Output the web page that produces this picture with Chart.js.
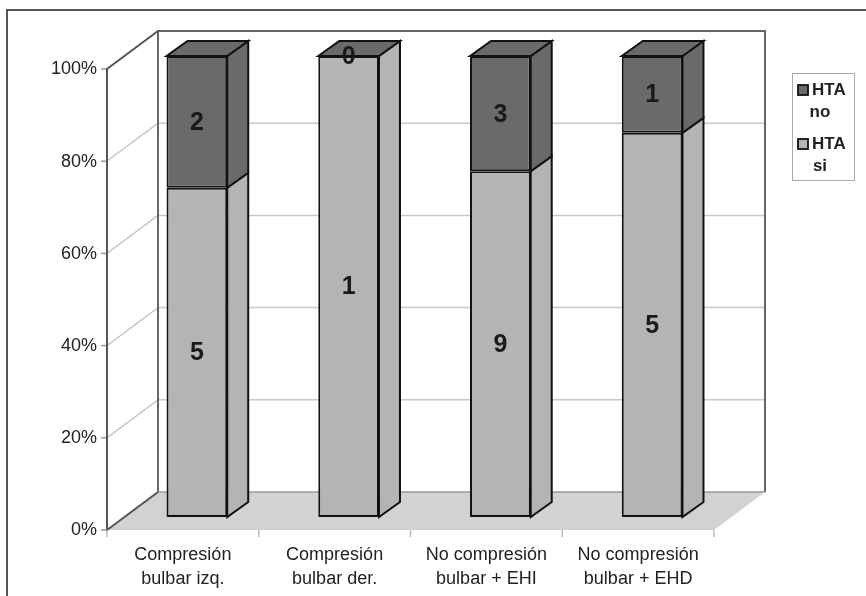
<!DOCTYPE html>
<html>
<head>
<meta charset="utf-8">
<script src="https://cdn.jsdelivr.net/npm/chart.js@4/dist/chart.umd.min.js"></script>
<style>
  html, body { margin: 0; padding: 0; background: #fff; }
  canvas { display: block; }
</style>
</head>
<body>
<canvas id="chart" width="866" height="596"></canvas>
<script>
// Categories (two-line labels)
const categories = [
  ['Compresión', 'bulbar izq.'],
  ['Compresión', 'bulbar der.'],
  ['No compresión', 'bulbar + EHI'],
  ['No compresión', 'bulbar + EHD']
];
// Patient counts per group
const htaSi = [5, 1, 9, 5];
const htaNo = [2, 0, 3, 1];
const seriesNames = ['HTA si', 'HTA no'];
const seriesColors = ['#b4b4b4', '#6a6a6a'];
const yTicks = [0, 20, 40, 60, 80, 100];

// 100% stacked shares
const totals = htaSi.map((v, i) => v + htaNo[i]);
const siPct = htaSi.map((v, i) => v / totals[i] * 100);
const noPct = htaNo.map((v, i) => v / totals[i] * 100);

// Perspective offsets
const WALL = { x: 51, y: -38 };     // depth of the back wall
const SHIFT = { x: 14, y: -13 };    // plane where bar fronts sit
const BAR = { x: 21, y: -15 };      // depth of each column

const FONT = '"Liberation Sans", Arial, sans-serif';

function poly(ctx, pts, fill, stroke, lw) {
  ctx.beginPath();
  ctx.moveTo(pts[0][0], pts[0][1]);
  for (let i = 1; i < pts.length; i++) ctx.lineTo(pts[i][0], pts[i][1]);
  ctx.closePath();
  if (fill) { ctx.fillStyle = fill; ctx.fill(); }
  if (stroke) { ctx.strokeStyle = stroke; ctx.lineWidth = lw || 1; ctx.stroke(); }
}

function line(ctx, x1, y1, x2, y2, color, lw) {
  ctx.beginPath();
  ctx.moveTo(x1, y1);
  ctx.lineTo(x2, y2);
  ctx.strokeStyle = color;
  ctx.lineWidth = lw;
  ctx.stroke();
}

const scene3d = {
  id: 'scene3d',
  beforeDraw(chart) {
    const { ctx, chartArea: a, scales: { x, y } } = chart;
    ctx.save();
    // outer frame
    ctx.strokeStyle = '#555';
    ctx.lineWidth = 2;
    ctx.strokeRect(7, 10, 900, 700);

    const y0 = y.getPixelForValue(0);
    const y100 = y.getPixelForValue(100);

    // floor
    poly(ctx, [[a.left, y0], [a.left + WALL.x, y0 + WALL.y], [a.right + WALL.x, y0 + WALL.y], [a.right, y0]], '#d2d2d2');

    // gridlines: left wall diagonals + back wall horizontals
    yTicks.forEach(t => {
      const py = y.getPixelForValue(t);
      if (t !== 0 && t !== 100) {
        line(ctx, a.left, py, a.left + WALL.x, py + WALL.y, '#c8c8c8', 1.5);
        line(ctx, a.left + WALL.x, py + WALL.y, a.right + WALL.x, py + WALL.y, '#c8c8c8', 1.5);
      }
      // y tick marks
      line(ctx, a.left - 6, py, a.left, py, '#999', 1.5);
    });

    // back wall border
    ctx.strokeStyle = '#666';
    ctx.lineWidth = 2;
    ctx.beginPath();
    ctx.moveTo(a.left + WALL.x, y0 + WALL.y);
    ctx.lineTo(a.left + WALL.x, y100 + WALL.y);
    ctx.lineTo(a.right + WALL.x, y100 + WALL.y);
    ctx.lineTo(a.right + WALL.x, y0 + WALL.y);
    ctx.stroke();
    line(ctx, a.left + WALL.x, y0 + WALL.y, a.right + WALL.x, y0 + WALL.y, '#9a9a9a', 1.5);

    // left wall edges
    ctx.strokeStyle = '#555';
    ctx.lineWidth = 2;
    ctx.beginPath();
    ctx.moveTo(a.left + WALL.x, y0 + WALL.y);
    ctx.lineTo(a.left, y0);
    ctx.lineTo(a.left, y100);
    ctx.lineTo(a.left + WALL.x, y100 + WALL.y);
    ctx.stroke();

    // category tick marks below the floor
    const n = categories.length;
    const step = (a.right - a.left) / n;
    for (let i = 0; i <= n; i++) {
      const px = a.left + step * i;
      line(ctx, px, y0, px, y0 + 7, '#bbb', 1.5);
    }

    // y tick labels
    ctx.fillStyle = '#222';
    ctx.font = '18px ' + FONT;
    ctx.textAlign = 'right';
    ctx.textBaseline = 'middle';
    yTicks.forEach(t => {
      ctx.fillText(t + '%', a.left - 10, y.getPixelForValue(t) + 0.5);
    });

    // category labels
    ctx.textAlign = 'center';
    categories.forEach((lab, i) => {
      const px = x.getPixelForValue(i);
      lab.forEach((s, k) => ctx.fillText(s, px, y0 + 25 + k * 24));
    });
    ctx.restore();
  },
  beforeDatasetsDraw(chart) {
    const { ctx } = chart;
    ctx.save();
    ctx.translate(SHIFT.x, SHIFT.y);
    const metas = chart.data.datasets.map((d, i) => chart.getDatasetMeta(i));
    const nCat = chart.data.labels.length;
    for (let j = 0; j < nCat; j++) {
      let topEl = null;
      metas.forEach((m, di) => {
        const el = m.data[j];
        const p = el.getProps(['x', 'y', 'base', 'width'], true);
        const r = p.x + p.width / 2;
        const top = Math.min(p.y, p.base), bot = Math.max(p.y, p.base);
        if (bot - top > 0.5) {
          poly(ctx, [[r, top], [r + BAR.x, top + BAR.y], [r + BAR.x, bot + BAR.y], [r, bot]],
               seriesColors[di], '#111', 2);
        }
        topEl = { p, di, top };
      });
      // lid of the column, in the colour of the upper series
      const { p, top } = topEl;
      const l = p.x - p.width / 2, r = p.x + p.width / 2;
      poly(ctx, [[l, top], [l + BAR.x, top + BAR.y], [r + BAR.x, top + BAR.y], [r, top]],
           seriesColors[seriesColors.length - 1], '#111', 2);
    }
  },
  afterDatasetsDraw(chart) {
    const { ctx } = chart;
    // value labels on the column fronts (still in the shifted plane)
    ctx.fillStyle = '#1a1a1a';
    ctx.font = 'bold 25px ' + FONT;
    ctx.textAlign = 'center';
    ctx.textBaseline = 'middle';
    chart.data.datasets.forEach((ds, di) => {
      chart.getDatasetMeta(di).data.forEach((el, j) => {
        const p = el.getProps(['x', 'y', 'base'], true);
        ctx.fillText(String(ds.counts[j]), p.x, (p.y + p.base) / 2 + 1);
      });
    });
    ctx.restore();

    // legend
    ctx.save();
    ctx.strokeStyle = '#aaa';
    ctx.lineWidth = 1;
    ctx.strokeRect(792.5, 73.5, 62, 107);
    const items = chart.data.datasets.slice().reverse();
    ctx.font = 'bold 17px ' + FONT;
    ctx.textBaseline = 'middle';
    items.forEach((ds, k) => {
      const cy = 90 + k * 54;
      const [w1, w2] = ds.label.split(' ');
      ctx.fillStyle = ds.backgroundColor;
      ctx.fillRect(798, cy - 5, 10, 10);
      ctx.strokeStyle = '#111';
      ctx.lineWidth = 1.8;
      ctx.strokeRect(798, cy - 5, 10, 10);
      ctx.fillStyle = '#222';
      ctx.textAlign = 'left';
      ctx.fillText(w1, 812, cy + 0.5);
      ctx.textAlign = 'center';
      ctx.fillText(w2, 820, cy + 22);
    });
    ctx.restore();
  }
};

new Chart(document.getElementById('chart'), {
  type: 'bar',
  data: {
    labels: categories,
    datasets: [
      { label: seriesNames[0], data: siPct, counts: htaSi, backgroundColor: seriesColors[0],
        borderColor: '#111', borderWidth: 2, borderSkipped: false, clip: false },
      { label: seriesNames[1], data: noPct, counts: htaNo, backgroundColor: seriesColors[1],
        borderColor: '#111', borderWidth: 2, borderSkipped: false, clip: false }
    ]
  },
  options: {
    responsive: false,
    animation: false,
    events: [],
    layout: { padding: { left: 107, right: 152, top: 69, bottom: 66 } },
    datasets: { bar: { barPercentage: 0.8, categoryPercentage: 0.5 } },
    scales: {
      x: { display: false, stacked: true },
      y: { display: false, stacked: true, min: 0, max: 100 }
    },
    plugins: { legend: { display: false }, tooltip: { enabled: false } }
  },
  plugins: [scene3d]
});
</script>
</body>
</html>
